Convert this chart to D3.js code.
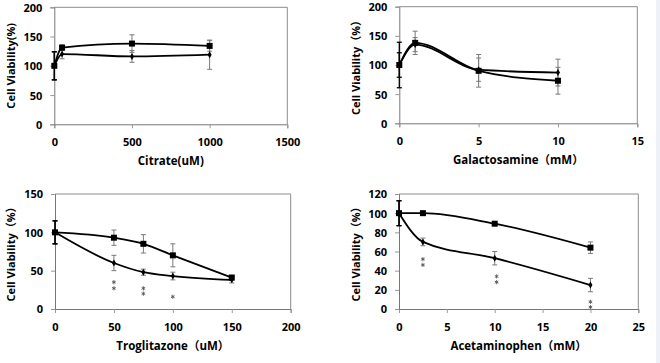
<!DOCTYPE html>
<html>
<head>
<meta charset="utf-8">
<script src="https://cdn.jsdelivr.net/npm/d3@7"></script>
<style>
  body { margin: 0; background: #fff; }
  svg { display: block; }
  text { font-family: "Open Sans", "Noto Sans CJK SC", sans-serif; font-weight: bold; fill: #000; }
</style>
</head>
<body>
<svg id="chart" width="660" height="363"></svg>
<script>
// 数据 —— 每个面板: x 浓度, 两组细胞活力(方块 / 菱形), 误差
var citrateX = [0, 50, 500, 1000];
var citrateSq = [100, 131, 138, 134];
var citrateSqErr = [24, 5, 15, 9];
var citrateDm = [100, 120, 116, 119];
var citrateDmErr = [24, 8, 10, 25];

var galX = [0, 1, 5, 10];
var galSq = [100, 138, 90, 73];
var galSqErr = [39, 20, 28, 23];
var galDm = [100, 135, 92, 87];
var galDmErr = [21, 12, 20, 23];

var trogX = [0, 50, 75, 100, 150];
var trogSq = [100, 93, 85, 70, 41];
var trogSqErr = [15, 10, 12, 15, 3];
var trogDm = [100, 60, 48, 43, 38];
var trogDmErr = [15, 10, 4, 5, 4];
var trogStars = [{ x: 50, y: [35, 27] }, { x: 75, y: [27, 20] }, { x: 100, y: [16] }];

var apapX = [0, 2.5, 10, 20];
var apapSq = [100, 100, 89, 64];
var apapSqErr = [13, 1, 1, 6];
var apapDm = [100, 70, 53, 25];
var apapDmErr = [13, 4, 7, 7];
var apapStars = [{ x: 2.5, y: [52, 46] }, { x: 10.2, y: [34, 28] }, { x: 20, y: [7.5, 2] }];

var svg = d3.select("#chart");

// 右侧浅色条
svg.append("rect").attr("x", 656).attr("y", 0).attr("width", 4).attr("height", 363).attr("fill", "#eef2f8");

var panels = [
  { box: [54.3, 287.3, 7.3, 124.3], xDom: [0, 1500], xTicks: [0, 500, 1000, 1500], yDom: [0, 200], yTicks: [0, 50, 100, 150, 200],
    xs: citrateX, sq: citrateSq, sqE: citrateSqErr, dm: citrateDm, dmE: citrateDmErr, stars: [],
    xTitle: "Citrate(uM)", yTitle: "Cell Viability(%)", titleX: 11.5 },
  { box: [399.3, 637.3, 6.7, 123.3], xDom: [0, 15], xTicks: [0, 5, 10, 15], yDom: [0, 200], yTicks: [0, 50, 100, 150, 200],
    xs: galX, sq: galSq, sqE: galSqErr, dm: galDm, dmE: galDmErr, stars: [],
    xTitle: "Galactosamine（mM）", yTitle: "Cell Viability（%）", titleX: 356.5 },
  { box: [55, 290.7, 194, 309], xDom: [0, 200], xTicks: [0, 50, 100, 150, 200], yDom: [0, 150], yTicks: [0, 50, 100, 150],
    xs: trogX, sq: trogSq, sqE: trogSqErr, dm: trogDm, dmE: trogDmErr, stars: trogStars,
    xTitle: "Troglitazone（uM）", yTitle: "Cell Viability（%）", titleX: 11.5 },
  { box: [399, 638.3, 194, 309], xDom: [0, 25], xTicks: [0, 5, 10, 15, 20, 25], yDom: [0, 120], yTicks: [0, 20, 40, 60, 80, 100, 120],
    xs: apapX, sq: apapSq, sqE: apapSqErr, dm: apapDm, dmE: apapDmErr, stars: apapStars,
    xTitle: "Acetaminophen（mM）", yTitle: "Cell Viability（%）", titleX: 356.5 }
];

panels.forEach(function(p) {
  var x = d3.scaleLinear().domain(p.xDom).range([p.box[0], p.box[1]]);
  var y = d3.scaleLinear().domain(p.yDom).range([p.box[3], p.box[2]]);
  var g = svg.append("g");

  // 边框(上, 右)
  g.append("path")
    .attr("d", "M" + x.range()[0] + "," + y.range()[1] + "H" + x.range()[1] + "V" + y.range()[0])
    .attr("fill", "none").attr("stroke", "#8c8c8c").attr("stroke-width", 1);

  // 坐标轴
  var xa = g.append("g").attr("transform", "translate(0," + y.range()[0] + ")")
    .call(d3.axisBottom(x).tickValues(p.xTicks).tickFormat(d3.format("d")).tickSize(4).tickPadding(8));
  var ya = g.append("g").attr("transform", "translate(" + x.range()[0] + ",0)")
    .call(d3.axisLeft(y).tickValues(p.yTicks).tickFormat(d3.format("d")).tickSize(4).tickPadding(8));
  [xa, ya].forEach(function(a) {
    a.select(".domain").attr("stroke", "#777");
    a.selectAll(".tick line").attr("stroke", "#999");
    a.selectAll(".tick text").style("font-size", "11px").style("font-weight", "bold")
      .style("font-family", "'Open Sans', sans-serif").attr("fill", "#000");
  });
  xa.selectAll(".tick text").attr("dy", "0.9em");
  ya.selectAll(".tick text").attr("dy", "0.36em");

  // 轴标题
  g.append("text").attr("x", (p.box[0] + p.box[1]) / 2).attr("y", p.box[3] + 41)
    .attr("text-anchor", "middle").style("font-size", "11.5px").text(p.xTitle);
  g.append("text")
    .attr("transform", "translate(" + p.titleX + "," + (p.box[2] + p.box[3]) / 2 + ") rotate(-90)")
    .attr("text-anchor", "middle").attr("dy", "0.35em").style("font-size", "11px").text(p.yTitle);

  var sqPts = p.xs.map(function(v, i) { return { x: v, y: p.sq[i], e: p.sqE[i] }; });
  var dmPts = p.xs.map(function(v, i) { return { x: v, y: p.dm[i], e: p.dmE[i] }; });

  // 误差线
  [sqPts, dmPts].forEach(function(pts) {
    var eb = g.append("g").selectAll("g").data(pts).enter().append("g")
      .attr("stroke", function(d) { return d.x === 0 ? "#000" : "#7a7a7a"; })
      .attr("stroke-width", function(d) { return d.x === 0 ? 1.3 : 1; });
    eb.append("line")
      .attr("x1", function(d) { return x(d.x); }).attr("x2", function(d) { return x(d.x); })
      .attr("y1", function(d) { return y(d.y - d.e); }).attr("y2", function(d) { return y(d.y + d.e); });
    [-1, 1].forEach(function(s) {
      eb.append("line")
        .attr("x1", function(d) { return x(d.x) - 2.5; }).attr("x2", function(d) { return x(d.x) + 2.5; })
        .attr("y1", function(d) { return y(d.y + s * d.e); }).attr("y2", function(d) { return y(d.y + s * d.e); });
    });
  });

  // 平滑曲线
  var line = d3.line().x(function(d) { return x(d.x); }).y(function(d) { return y(d.y); })
    .curve(d3.curveMonotoneX);
  [sqPts, dmPts].forEach(function(pts) {
    g.append("path").datum(pts).attr("d", line)
      .attr("fill", "none").attr("stroke", "#000").attr("stroke-width", 1.8);
  });

  // 标记
  g.append("g").selectAll("rect").data(sqPts).enter().append("rect")
    .attr("x", function(d) { return x(d.x) - 3; }).attr("y", function(d) { return y(d.y) - 3; })
    .attr("width", 6).attr("height", 6).attr("fill", "#000");
  g.append("g").selectAll("path").data(dmPts).enter().append("path")
    .attr("d", d3.symbol().type(d3.symbolDiamond).size(14))
    .attr("transform", function(d) { return "translate(" + x(d.x) + "," + y(d.y) + ")"; })
    .attr("fill", "#000");

  // 显著性星号 (小符号)
  var starPts = [];
  p.stars.forEach(function(s) { s.y.forEach(function(v) { starPts.push({ x: s.x, y: v }); }); });
  g.append("g").selectAll("path").data(starPts).enter().append("path")
    .attr("d", d3.symbol().type(d3.symbolAsterisk).size(12))
    .attr("transform", function(d) { return "translate(" + x(d.x) + "," + y(d.y) + ")"; })
    .attr("fill", "none").attr("stroke", "#555").attr("stroke-width", 0.9);
});
</script>
</body>
</html>
